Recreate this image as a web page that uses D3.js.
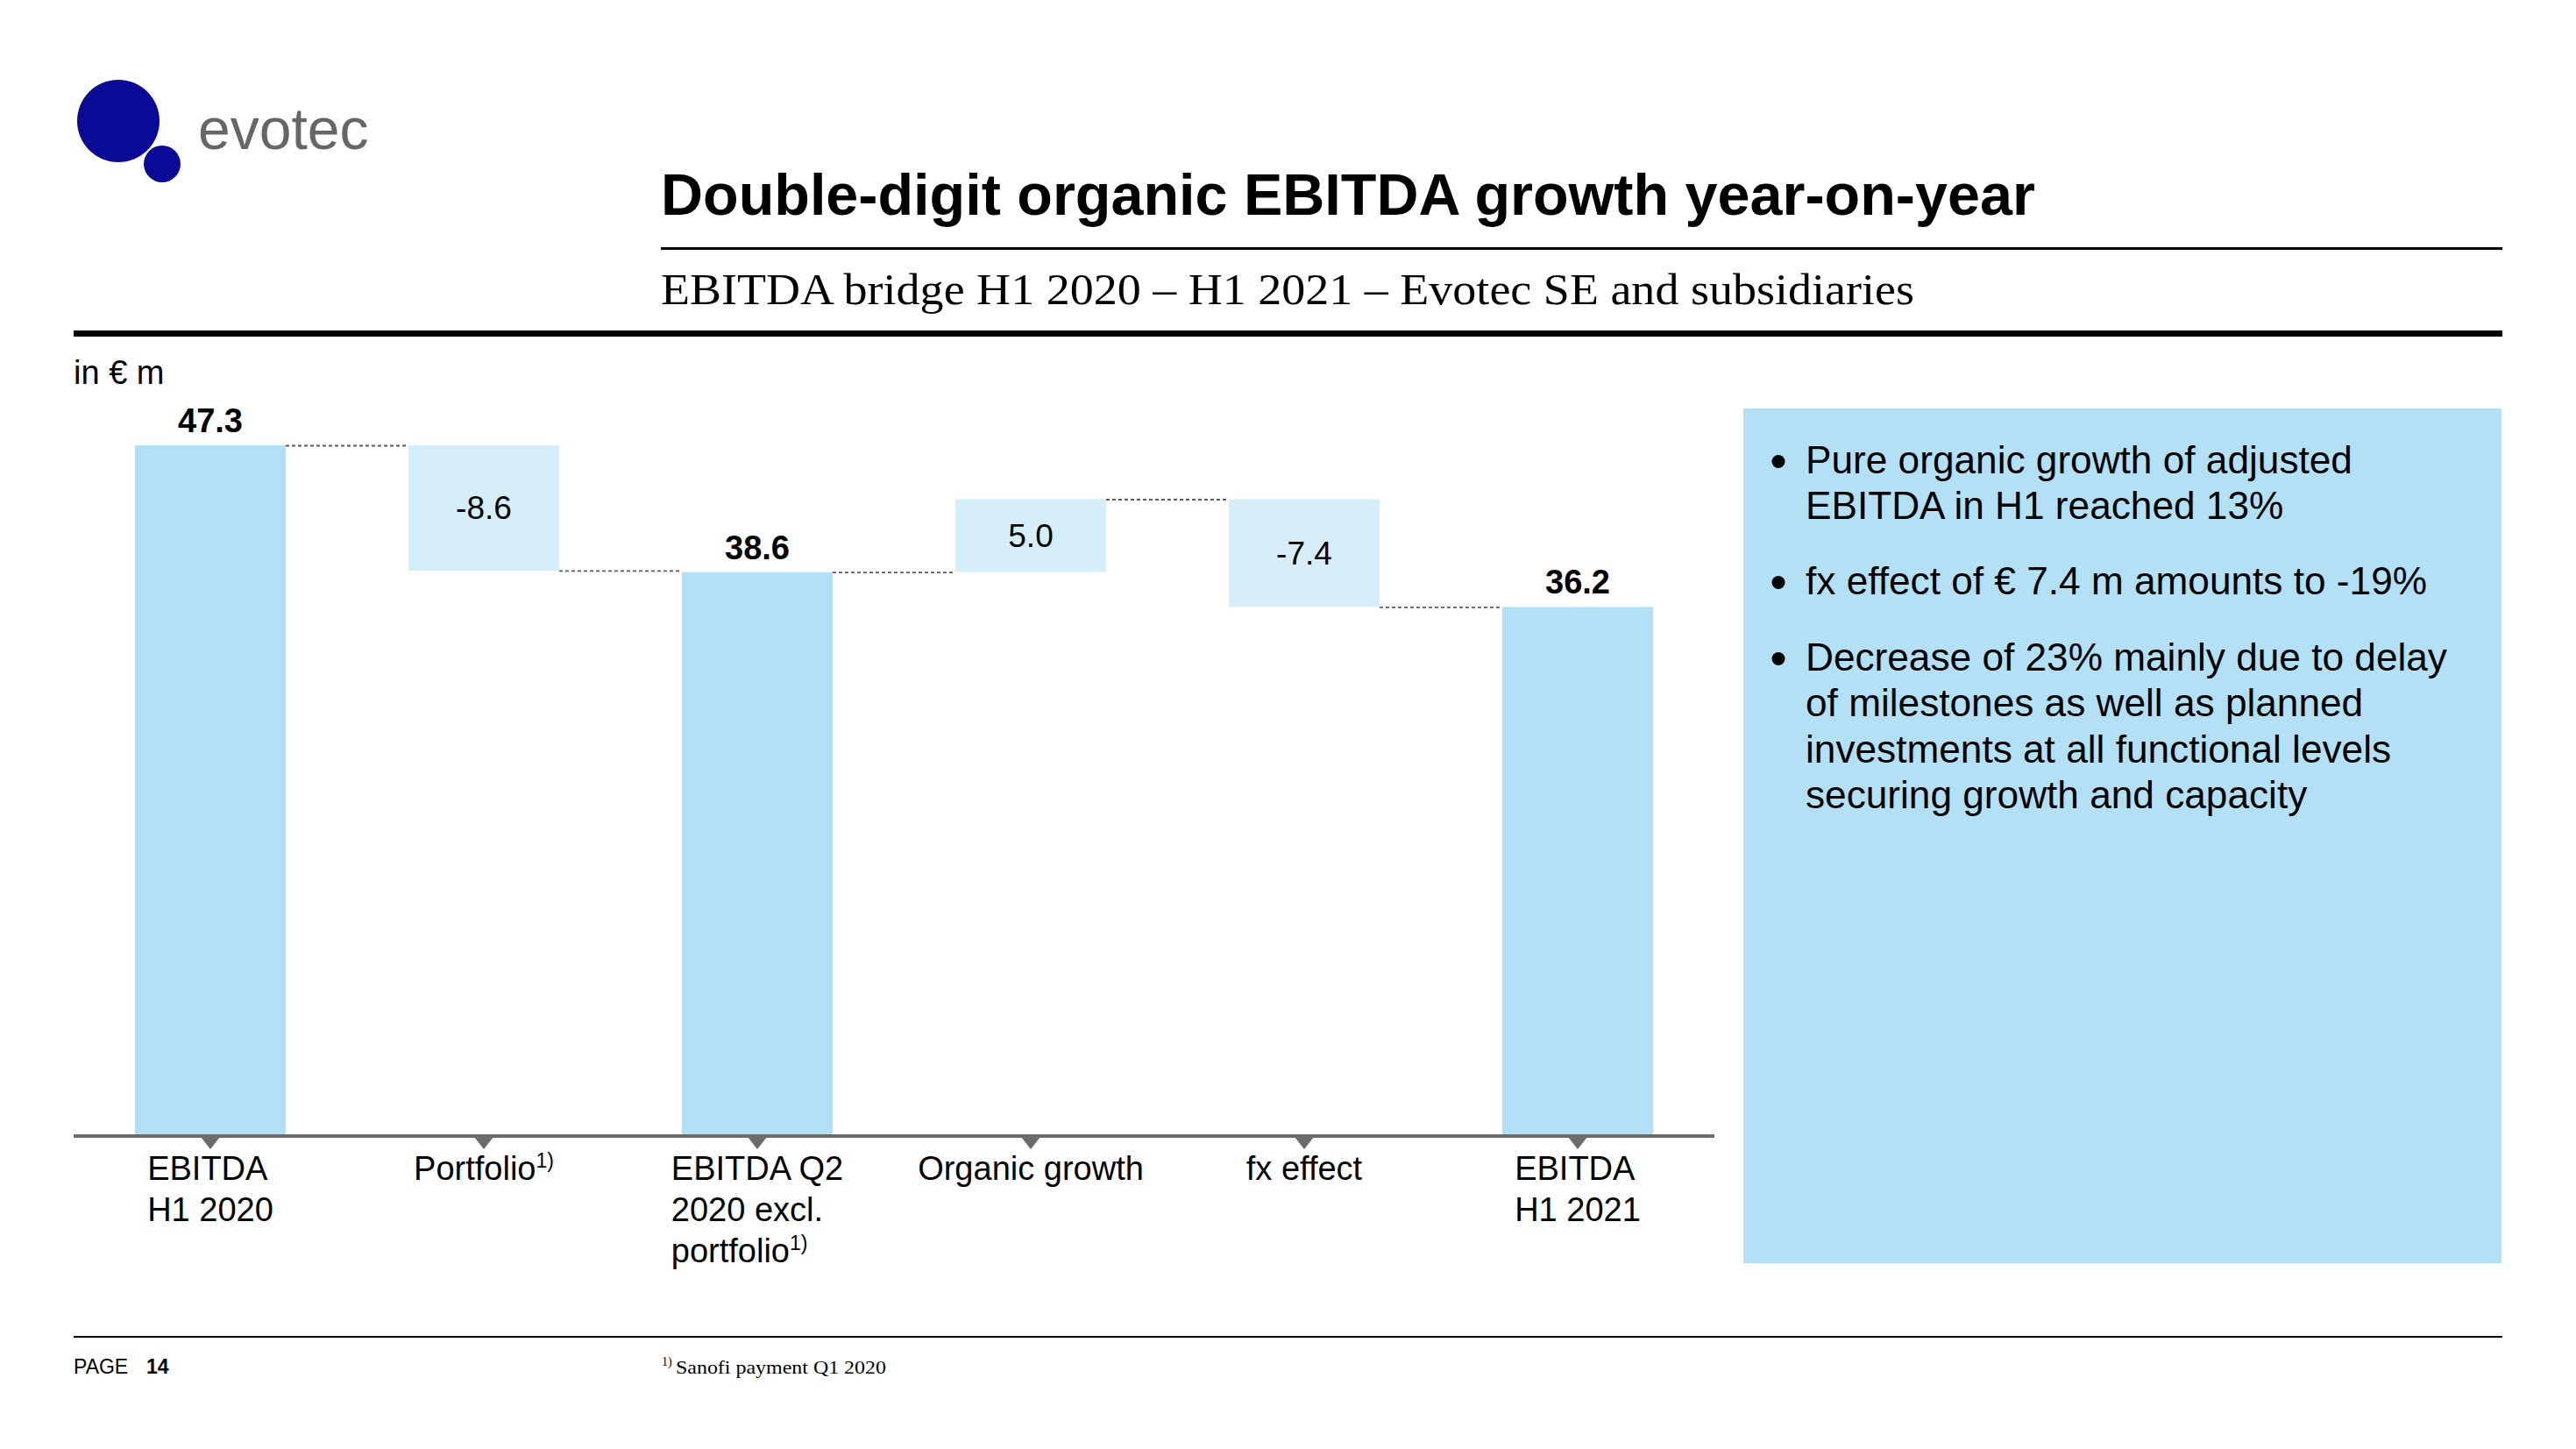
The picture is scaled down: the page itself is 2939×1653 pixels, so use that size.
<!DOCTYPE html>
<html>
<head>
<meta charset="utf-8">
<script src="https://cdn.jsdelivr.net/npm/d3@7"></script>
<style>
  html, body { margin: 0; padding: 0; background: #ffffff; }
  svg { display: block; }
</style>
</head>
<body>
<script>
// ---------- data ----------
const categories = ["EBITDA H1 2020", "Portfolio", "EBITDA Q2 2020 excl. portfolio", "Organic growth", "fx effect", "EBITDA H1 2021"];
const categoryLines = [["EBITDA", "H1 2020"], ["Portfolio"], ["EBITDA Q2", "2020 excl.", "portfolio"], ["Organic growth"], ["fx effect"], ["EBITDA", "H1 2021"]];
const categoryNotes = ["", "1)", "1)", "", "", ""];
const values = [47.3, -8.6, 38.6, 5.0, -7.4, 36.2];
const barKinds = ["total", "delta", "total", "delta", "delta", "total"];
const bullets = [
  ["Pure organic growth of adjusted", "EBITDA in H1 reached 13%"],
  ["fx effect of \u20AC 7.4 m amounts to -19%"],
  ["Decrease of 23% mainly due to delay", "of milestones as well as planned", "investments at all functional levels", "securing growth and capacity"]
];
const titleText = "Double-digit organic EBITDA growth year-on-year";
const subtitleText = "EBITDA bridge H1 2020 \u2013 H1 2021 \u2013 Evotec SE and subsidiaries";
const unitText = "in \u20AC m";
const footnoteText = "Sanofi payment Q1 2020";

// ---------- setup ----------
const W = 2939, H = 1653;
const SANS = "'Liberation Sans', Arial, Helvetica, sans-serif";
const SERIF = "'Liberation Serif', 'DejaVu Serif', Georgia, serif";
const svg = d3.select("body").append("svg").attr("width", W).attr("height", H)
  .style("background", "#ffffff");

// logo
const logo = svg.append("g");
logo.append("circle").attr("cx", 135).attr("cy", 138).attr("r", 47).attr("fill", "#0a0a96");
logo.append("circle").attr("cx", 185).attr("cy", 187).attr("r", 21).attr("fill", "#0a0a96");
logo.append("text").attr("x", 226).attr("y", 170).attr("font-family", SANS)
  .attr("font-size", 66).attr("fill", "#666666").text("evotec");

// title
svg.append("text").attr("x", 754).attr("y", 245).attr("font-family", SANS)
  .attr("font-size", 66.5).attr("font-weight", "bold").attr("fill", "#000").text(titleText);
svg.append("rect").attr("x", 754).attr("y", 282).attr("width", 2101).attr("height", 3).attr("fill", "#000");
svg.append("text").attr("x", 754).attr("y", 347).attr("font-family", SERIF)
  .attr("font-size", 50).attr("fill", "#000")
  .attr("textLength", 1430).attr("lengthAdjust", "spacingAndGlyphs").text(subtitleText);
svg.append("rect").attr("x", 84).attr("y", 377).attr("width", 2771).attr("height", 7).attr("fill", "#000");

// unit
svg.append("text").attr("x", 84).attr("y", 438).attr("font-family", SANS)
  .attr("font-size", 38).attr("fill", "#000").text(unitText);

// ---------- waterfall ----------
let running = 0;
const bars = values.map((v, i) => {
  let y0, y1;
  if (barKinds[i] === "total") { y0 = 0; y1 = v; running = v; }
  else { y0 = running; y1 = running + v; running = y1; }
  return { cat: categories[i], value: v, kind: barKinds[i], lo: Math.min(y0, y1), hi: Math.max(y0, y1), end: y1, i };
});

const x = d3.scaleBand().domain(categories).range([84, 1956]).paddingInner(0.449).paddingOuter(0.2245);
const y = d3.scaleLinear().domain([0, d3.max(values)]).range([1294, 508]);

const colors = { total: "#b3e0f5", delta: "#d6eefa" };

svg.append("g").selectAll("rect").data(bars).join("rect")
  .attr("x", d => x(d.cat)).attr("width", x.bandwidth())
  .attr("y", d => y(d.hi)).attr("height", d => y(d.lo) - y(d.hi))
  .attr("fill", d => colors[d.kind]);

// connectors
const links = bars.slice(0, -1).map((d, i) => ({ from: d, to: bars[i + 1], level: d.end }));
svg.append("g").selectAll("line").data(links).join("line")
  .attr("x1", d => x(d.from.cat) + x.bandwidth()).attr("x2", d => x(d.to.cat))
  .attr("y1", d => y(d.level) + 0.5).attr("y2", d => y(d.level) + 0.5)
  .attr("stroke", "#5a5a5a").attr("stroke-width", 1.8).attr("stroke-dasharray", "4,3");

// value labels
const fmt = d3.formatLocale({ decimal: ".", thousands: ",", grouping: [3], currency: ["", ""], minus: "-" }).format(".1f");
svg.append("g").selectAll("text").data(bars).join("text")
  .attr("x", d => x(d.cat) + x.bandwidth() / 2)
  .attr("y", d => d.kind === "total" ? y(d.hi) - 15 : (y(d.hi) + y(d.lo)) / 2)
  .attr("dy", d => d.kind === "total" ? 0 : "0.35em")
  .attr("text-anchor", "middle").attr("font-family", SANS)
  .attr("font-size", d => d.kind === "total" ? 38 : 37)
  .attr("font-weight", d => d.kind === "total" ? "bold" : "normal")
  .attr("fill", "#000")
  .text(d => fmt(d.value));

// axis
const axisG = svg.append("g").attr("transform", "translate(0,1296)");
const axis = d3.axisBottom(x).tickSize(0).tickFormat("");
axisG.call(axis);
axisG.select(".domain").attr("stroke", "#6b6b6b").attr("stroke-width", 4)
  .attr("d", "M84,0H1956");
axisG.selectAll(".tick").append("path")
  .attr("d", "M-11,1L11,1L0,15Z").attr("fill", "#6b6b6b");

// category labels
const labelG = svg.append("g");
categories.forEach((c, i) => {
  const cx = x(c) + x.bandwidth() / 2;
  const lines = categoryLines[i];
  const texts = lines.map((ln, j) => {
    const t = labelG.append("text").attr("y", 1346 + j * 47)
      .attr("font-family", SANS).attr("font-size", 38).attr("fill", "#000");
    t.append("tspan").text(ln);
    if (j === lines.length - 1 && categoryNotes[i]) {
      t.append("tspan").attr("font-size", 23).attr("dy", -14).text(categoryNotes[i]);
    }
    return t;
  });
  const widths = texts.map(t => t.node().getComputedTextLength());
  const maxW = d3.max(widths);
  texts.forEach(t => t.attr("x", cx - maxW / 2));
});

// ---------- text box ----------
svg.append("rect").attr("x", 1989).attr("y", 466).attr("width", 865).attr("height", 975).attr("fill", "#b3e0f5");
const bulletStarts = [540, 678, 765];
const tb = svg.append("g");
bullets.forEach((para, k) => {
  tb.append("circle").attr("cx", 2029).attr("cy", bulletStarts[k] - 13.5).attr("r", 7.5).attr("fill", "#000");
  para.forEach((ln, j) => {
    tb.append("text").attr("x", 2060).attr("y", bulletStarts[k] + j * 52.3)
      .attr("font-family", SANS).attr("font-size", 44.2).attr("fill", "#000").text(ln);
  });
});

// ---------- footer ----------
svg.append("rect").attr("x", 84).attr("y", 1524).attr("width", 2771).attr("height", 2).attr("fill", "#000");
const pg = svg.append("text").attr("x", 84).attr("y", 1567).attr("font-family", SANS).attr("font-size", 23).attr("fill", "#000");
pg.append("tspan").text("PAGE");
pg.append("tspan").attr("x", 167).attr("font-weight", "bold").text("14");
svg.append("text").attr("x", 755).attr("y", 1558).attr("font-family", SERIF).attr("font-size", 14).attr("fill", "#000").text("1)");
svg.append("text").attr("x", 771).attr("y", 1567).attr("font-family", SERIF).attr("font-size", 22)
  .attr("fill", "#000").attr("textLength", 240).attr("lengthAdjust", "spacingAndGlyphs").text(footnoteText);
</script>
</body>
</html>
